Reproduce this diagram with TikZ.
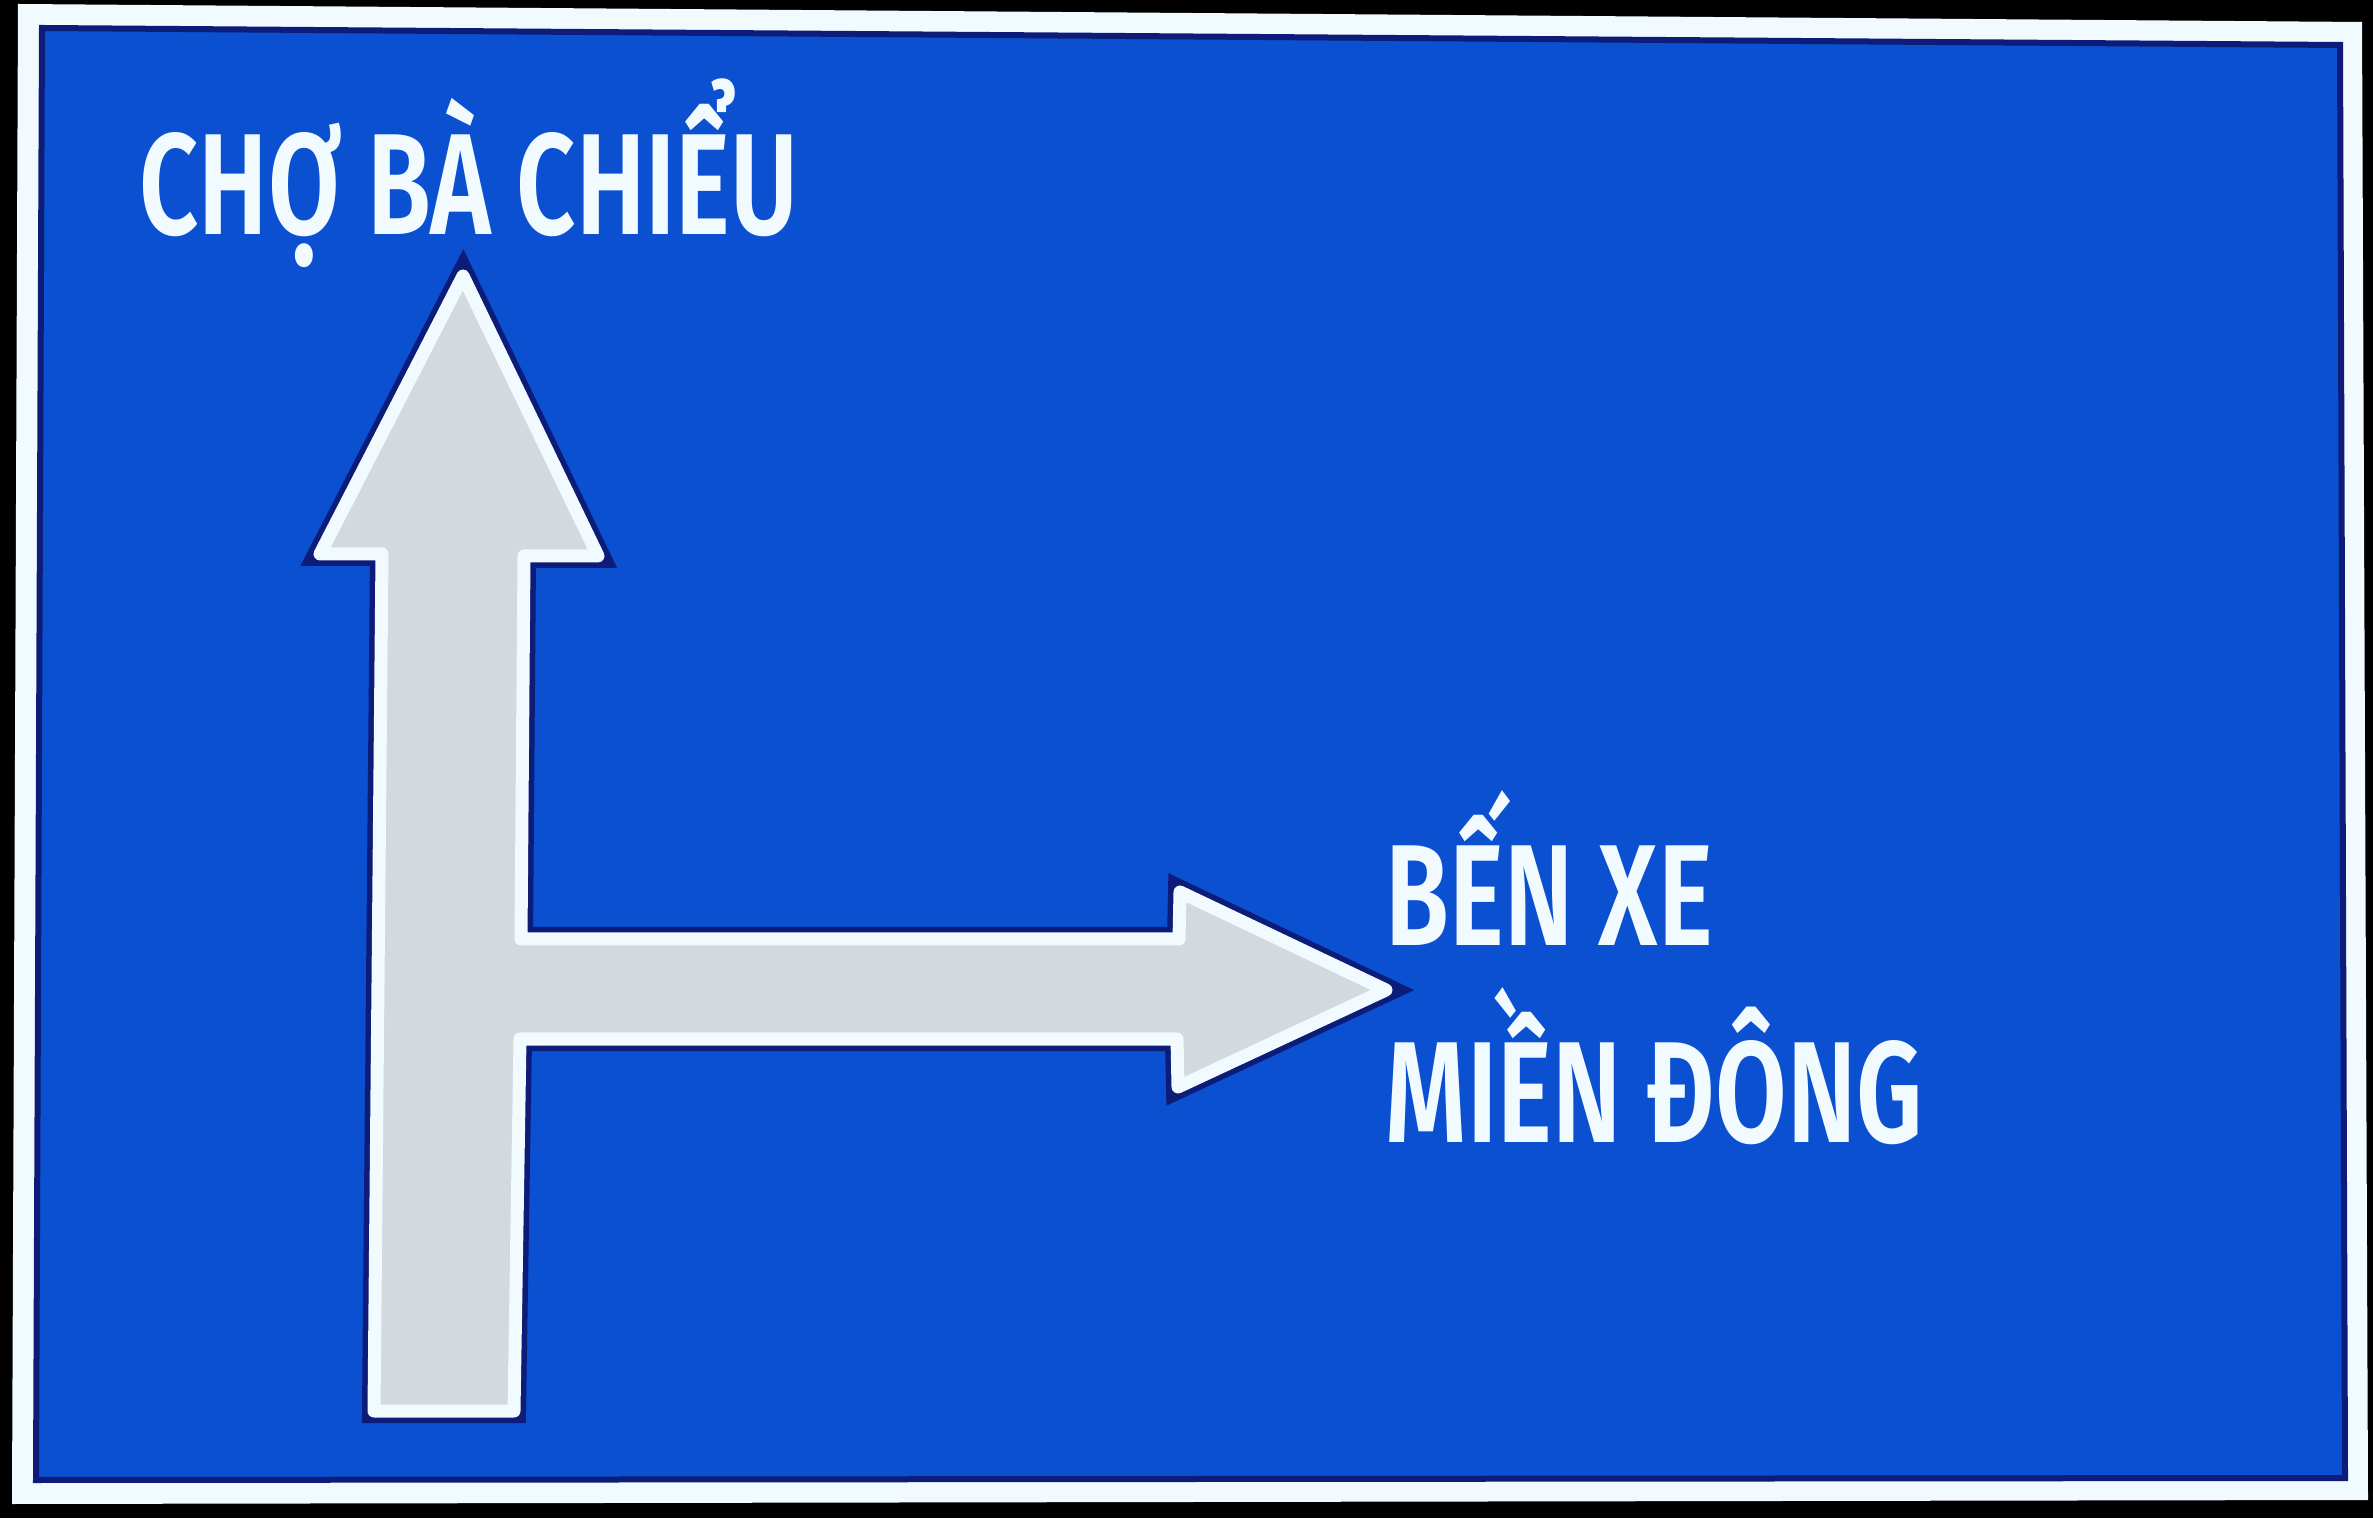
\documentclass[tikz,border=0pt]{standalone}
\usepackage{fontspec}
\newfontfamily\signfont[FakeStretch=0.72]{Fira Sans SemiBold}
\definecolor{signblue}{RGB}{10,80,208}
\definecolor{signnavy}{RGB}{12,28,120}
\definecolor{signwhite}{RGB}{240,250,255}
\definecolor{arrowgray}{RGB}{212,216,223}
\tikzset{signtext/.style={text=signwhite,inner sep=0pt,
  font=\signfont\fontsize{41}{41}\selectfont}}

\begin{document}
\begin{tikzpicture}
\useasboundingbox (0,0) rectangle (23.73,15.18);
\fill[black] (0,0) rectangle (23.73,15.18);
% board
\fill[signwhite] (0.18,15.14) -- (23.62,14.96) -- (23.68,0.18) -- (0.12,0.14) -- cycle;
\draw[signnavy,fill=signblue,line width=0.06cm] (0.42,14.90) -- (23.40,14.73) -- (23.45,0.40) -- (0.36,0.38) -- cycle;
% arrow
\draw[fill=arrowgray,draw=signwhite,line width=0.13cm,line join=round,
  preaction={draw=signnavy,line width=0.24cm}]
  (4.63,12.42) -- (5.98,9.62) -- (5.24,9.62) -- (5.21,5.79) -- (11.79,5.79)
  -- (11.80,6.26) -- (13.86,5.28) -- (11.78,4.31) -- (11.77,4.79) -- (5.20,4.79)
  -- (5.14,1.07) -- (3.74,1.07) -- (3.82,9.64) -- (3.20,9.64) -- cycle;
% texts
\node[signtext,anchor=base west] (cho) at (1.39,12.83) {CHỢ BÀ CHIỂU};
\node[signtext,anchor=base west] (ben) at (13.85,5.72) {BẾN XE};
\node[signtext,anchor=base west] (mien) at (13.85,3.76) {MIỀN ĐÔNG};
\end{tikzpicture}
\end{document}
